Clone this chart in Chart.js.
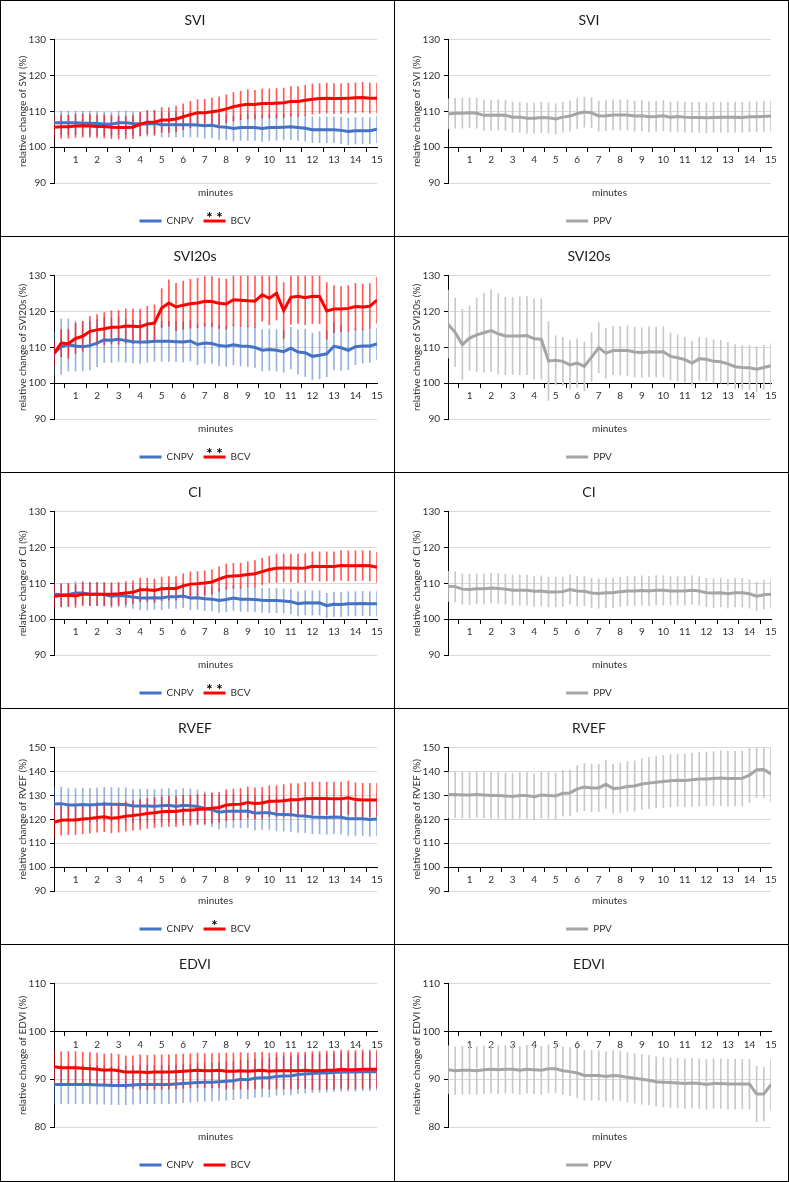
<!DOCTYPE html>
<html lang="en">
<head>
<meta charset="UTF-8" />
<title>Relative change of SVI, SVI20s, CI, RVEF and EDVI</title>
<script src="https://cdn.jsdelivr.net/npm/chart.js"></script>
<style>
  body { margin: 0; background: #fff; }
  #grid {
    width: 789px; box-sizing: border-box;
    border-top: 1px solid #000; border-left: 1px solid #000;
    display: grid; grid-template-columns: 394px 394px;
    grid-template-rows: 236px 236px 236px 236px 237px;
  }
  .cell { border-right: 1px solid #000; border-bottom: 1px solid #000; box-sizing: border-box; }
  canvas { display: block; }
</style>
</head>
<body>
<div id="grid"></div>
<script>
// time points, seconds after start (one every 20 s, 0..15 min)
const seconds = [0,20,40,60,80,100,120,140,160,180,200,220,240,260,280,300,320,340,360,380,400,420,440,460,480,500,520,540,560,580,600,620,640,660,680,700,720,740,760,780,800,820,840,860,880,900];

// SVI
const sviCnpv = [106.8,106.8,106.8,106.8,106.7,106.7,106.6,106.5,106.4,106.8,106.8,106.6,106.5,106.5,106.6,106.3,106.3,106.3,106.3,106.3,106.2,106.0,106.1,105.7,105.6,105.2,105.5,105.5,105.5,105.2,105.5,105.5,105.6,105.7,105.5,105.3,104.9,104.9,104.9,104.9,104.7,104.4,104.6,104.6,104.6,105.0];
const sviCnpvSd = [3.3,3.3,3.3,3.3,3.3,3.3,3.3,3.3,3.3,3.3,3.3,3.3,3.3,3.4,3.4,3.4,3.4,3.4,3.4,3.4,3.4,3.5,3.5,3.5,3.5,3.5,3.6,3.6,3.6,3.6,3.6,3.6,3.6,3.6,3.6,3.6,3.6,3.6,3.6,3.6,3.7,3.7,3.7,3.7,3.7,3.7];
const sviBcv = [105.6,105.7,105.7,105.9,106.0,105.9,105.8,105.8,105.6,105.5,105.5,105.6,106.4,107.0,107.0,107.6,107.6,107.9,108.5,109.1,109.6,109.6,109.9,110.2,110.7,111.3,111.7,112.0,111.9,112.2,112.2,112.3,112.4,112.8,112.8,113.1,113.4,113.6,113.7,113.6,113.6,113.7,113.8,113.9,113.7,113.7];
const sviBcvSd = [3.2,3.2,3.2,3.2,3.2,3.2,3.2,3.2,3.2,3.2,3.2,3.2,3.3,3.3,3.4,3.5,3.5,3.6,3.6,3.7,3.7,3.8,3.8,3.9,3.9,4.0,4.0,4.0,4.0,4.0,4.1,4.1,4.1,4.1,4.1,4.2,4.2,4.2,4.2,4.2,4.2,4.2,4.2,4.2,4.2,4.2];
const sviPpv = [109.3,109.5,109.5,109.6,109.5,108.9,108.9,109.0,108.9,108.4,108.4,108.1,108.1,108.3,108.2,107.9,108.4,108.7,109.4,109.8,109.6,108.7,108.8,109.0,109.0,109.0,108.7,108.8,108.5,108.6,108.8,108.4,108.6,108.4,108.3,108.3,108.2,108.3,108.4,108.4,108.4,108.3,108.5,108.5,108.6,108.7];
const sviPpvSd = [4.2,4.2,4.2,4.2,4.2,4.2,4.2,4.2,4.2,4.2,4.2,4.2,4.2,4.2,4.2,4.2,4.2,4.2,4.2,4.2,4.2,4.2,4.2,4.2,4.2,4.2,4.2,4.2,4.2,4.2,4.2,4.2,4.2,4.2,4.2,4.2,4.2,4.2,4.2,4.2,4.2,4.2,4.2,4.2,4.2,4.2];

// SVI20s
const svi20Cnpv = [108.3,110.2,110.7,110.4,110.2,110.5,111.2,112.1,112.0,112.3,111.9,111.6,111.5,111.5,111.7,111.7,111.7,111.6,111.5,111.8,110.8,111.2,111.1,110.5,110.3,110.7,110.4,110.3,110.0,109.2,109.4,109.2,108.8,109.8,108.7,108.5,107.5,107.8,108.2,110.3,109.9,109.2,110.2,110.4,110.4,111.0];
const svi20CnpvSd = [6.0,7.7,7.3,7.0,6.8,6.8,6.6,6.4,6.2,6.2,6.0,6.0,6.0,5.6,5.6,5.6,5.6,5.6,5.6,5.6,5.6,5.6,5.6,5.6,5.6,5.6,5.6,5.6,5.6,5.8,5.8,5.8,5.8,5.8,6.2,6.6,6.5,6.6,6.4,6.6,6.3,5.4,5.0,4.8,4.6,4.5];
const svi20Bcv = [108.3,111.2,111.0,112.5,113.1,114.5,114.9,115.2,115.6,115.6,116.0,115.9,115.8,116.5,116.8,121.0,122.4,121.3,121.8,122.2,122.4,122.9,122.8,122.3,122.1,123.3,123.2,123.0,122.9,124.7,123.7,125.1,120.3,124.0,124.3,123.9,124.3,124.2,120.2,120.7,120.7,120.9,121.4,121.3,121.5,123.2];
const svi20BcvSd = [3.5,3.8,4.0,4.2,4.2,4.2,4.3,4.5,4.6,4.7,4.8,4.8,4.8,5.0,5.1,5.4,6.5,6.6,6.7,6.8,6.9,7.0,7.0,7.0,7.0,7.2,7.3,7.3,7.3,7.4,7.4,7.5,7.8,7.6,7.6,7.6,7.6,7.6,7.9,6.6,6.3,6.4,6.5,6.4,6.3,6.4];
const svi20Ppv = [116.5,114.2,110.8,112.6,113.5,114.1,114.7,113.8,113.2,113.2,113.2,113.3,112.4,112.3,106.2,106.4,106.1,105.1,105.6,104.7,107.3,109.9,108.4,109.1,109.1,109.1,108.7,108.6,108.8,108.7,108.8,107.5,107.1,106.6,105.6,106.8,106.7,106.1,106.0,105.4,104.6,104.4,104.3,103.9,104.4,104.9];
const svi20PpvSd = [9.5,9.6,9.8,9.0,10.3,11.0,11.4,11.2,10.8,10.8,10.9,10.9,11.2,11.2,11.0,6.8,6.7,6.8,6.8,6.8,6.8,7.0,7.0,6.7,6.8,6.9,7.0,6.9,7.0,7.0,7.0,6.6,6.4,6.3,6.1,6.0,6.0,6.0,6.0,6.0,6.2,6.1,6.2,6.3,6.2,6.2];

// CI
const ciCnpv = [107.0,106.8,106.9,107.3,107.3,107.0,107.0,106.9,106.4,106.6,106.5,106.2,105.9,105.9,106.0,105.9,106.3,106.3,106.5,105.9,106.0,105.7,105.6,105.2,105.5,105.9,105.6,105.6,105.5,105.3,105.2,105.2,105.1,104.9,104.3,104.6,104.5,104.6,103.8,104.2,104.1,104.3,104.3,104.4,104.3,104.3];
const ciCnpvSd = [3.2,3.2,3.2,3.2,3.2,3.2,3.2,3.2,3.2,3.2,3.2,3.2,3.3,3.3,3.3,3.3,3.3,3.3,3.3,3.3,3.3,3.3,3.3,3.3,3.4,3.4,3.4,3.4,3.4,3.4,3.4,3.4,3.4,3.4,3.4,3.4,3.4,3.4,3.4,3.4,3.4,3.4,3.4,3.4,3.4,3.4];
const ciBcv = [106.4,106.6,106.7,106.5,107.0,107.0,107.0,107.0,107.0,107.1,107.3,107.5,108.2,108.2,108.0,108.5,108.6,108.6,109.3,109.8,109.9,110.1,110.4,111.2,111.9,112.1,112.2,112.5,112.7,113.3,113.9,114.2,114.3,114.3,114.2,114.3,114.8,114.7,114.7,114.7,115.0,114.9,114.9,115.0,114.9,114.5];
const ciBcvSd = [3.2,3.2,3.2,3.2,3.2,3.2,3.2,3.2,3.2,3.2,3.2,3.2,3.3,3.3,3.3,3.3,3.3,3.3,3.4,3.4,3.4,3.4,3.4,3.4,3.5,3.5,3.5,3.5,3.7,3.7,3.7,3.9,3.9,3.9,4.0,4.0,4.0,4.1,4.1,4.1,4.2,4.2,4.2,4.2,4.2,4.2];
const ciPpv = [109.2,109.1,108.4,108.3,108.5,108.5,108.7,108.6,108.4,108.1,108.1,108.1,107.8,107.9,107.6,107.6,107.7,108.3,107.9,107.8,107.3,107.2,107.4,107.4,107.7,107.9,107.9,108.0,107.9,108.1,108.1,107.9,107.9,107.9,108.1,107.9,107.4,107.3,107.4,107.1,107.4,107.4,107.1,106.4,106.8,107.0];
const ciPpvSd = [4.2,4.2,4.2,4.2,4.2,4.2,4.2,4.2,4.2,4.2,4.2,4.2,4.2,4.2,4.2,4.2,4.1,4.1,4.1,4.1,4.1,4.1,4.1,4.1,4.1,4.1,4.1,4.1,4.1,4.1,4.1,4.0,4.0,4.0,4.0,4.0,4.0,4.0,4.0,4.0,4.0,4.0,4.0,4.0,4.0,4.0];

// RVEF
const rvefCnpv = [126.5,126.6,126.0,126.0,126.2,126.0,126.2,126.4,126.3,126.2,126.2,125.6,125.6,125.6,125.5,125.7,125.9,125.4,125.9,125.7,125.4,124.6,124.0,123.0,123.4,123.4,123.4,123.5,122.6,122.8,122.8,122.2,122.1,122.0,121.5,121.4,121.0,120.9,120.8,121.0,120.9,120.3,120.3,120.3,120.0,120.2];
const rvefCnpvSd = [7.0,6.9,6.9,6.9,6.9,7.0,7.0,7.0,7.0,7.0,7.0,7.0,7.0,7.0,7.0,7.0,7.0,7.0,7.0,7.0,7.0,7.0,7.0,7.0,7.0,7.0,7.0,7.0,7.0,7.0,7.0,7.0,7.0,7.0,7.0,7.0,7.0,7.0,7.0,7.0,7.0,7.0,7.0,7.0,7.0,7.0];
const rvefBcv = [118.8,119.6,119.8,119.8,120.2,120.4,120.8,121.1,120.5,120.8,121.3,121.6,122.0,122.5,122.8,123.2,123.4,123.3,123.8,123.8,124.1,124.4,124.7,125.0,126.0,126.2,126.4,127.1,126.7,126.9,127.6,127.6,127.8,128.2,128.2,128.7,128.8,128.8,128.8,128.6,128.6,129.1,128.3,128.1,128.1,128.1];
const rvefBcvSd = [6.2,6.2,6.2,6.2,6.2,6.2,6.2,6.2,6.2,6.2,6.2,6.2,6.3,6.3,6.3,6.3,6.3,6.3,6.3,6.3,6.3,6.3,6.3,6.3,6.5,6.5,6.5,6.5,6.5,6.5,6.5,6.5,6.8,6.8,6.8,6.8,6.8,6.8,6.8,7.0,7.0,7.0,7.0,7.0,7.0,7.0];
const rvefPpv = [130.3,130.4,130.2,130.2,130.4,130.2,130.0,130.0,129.8,129.6,130.0,130.0,129.5,130.2,130.0,129.8,131.0,131.1,132.8,133.6,133.2,133.2,134.7,132.9,133.2,133.8,134.0,134.8,135.2,135.6,135.9,136.2,136.4,136.3,136.6,136.9,136.9,137.1,137.3,137.1,137.1,137.2,138.5,140.8,140.9,139.0];
const rvefPpvSd = [9.6,9.6,9.6,9.6,9.6,9.6,9.6,9.6,9.6,9.6,9.6,9.6,9.6,9.6,9.6,9.6,9.6,9.6,9.8,9.9,10.0,10.0,10.1,10.3,10.4,10.4,10.5,10.6,10.7,10.8,10.9,11.0,11.0,11.1,11.2,11.2,11.3,11.3,11.4,11.4,11.4,11.5,11.5,11.6,11.8,11.7];

// EDVI
const edviCnpv = [88.9,88.9,88.9,88.9,88.9,88.9,88.8,88.8,88.7,88.7,88.7,88.8,88.9,88.9,88.9,88.9,88.9,89.0,89.1,89.2,89.3,89.4,89.4,89.5,89.6,89.7,90.0,89.9,90.2,90.3,90.3,90.6,90.7,90.7,91.0,91.1,91.2,91.3,91.3,91.4,91.5,91.5,91.5,91.6,91.6,91.6];
const edviCnpvSd = [4.0,4.0,4.0,4.0,4.0,4.0,4.0,4.0,4.0,4.0,4.0,4.0,4.0,4.0,4.0,4.0,4.0,4.0,4.0,4.0,4.0,4.0,4.0,4.0,4.0,4.0,4.0,4.0,4.0,4.0,4.0,4.0,4.0,4.0,4.0,4.0,4.0,4.0,4.0,4.0,4.0,4.0,4.0,4.0,4.0,4.0];
const edviBcv = [92.6,92.4,92.4,92.4,92.3,92.2,92.1,91.9,92.0,91.8,91.5,91.5,91.5,91.4,91.5,91.5,91.5,91.6,91.7,91.8,91.9,91.8,91.8,91.9,91.7,91.7,91.8,91.7,91.8,91.9,91.7,91.8,91.8,91.8,91.8,91.9,91.8,91.8,91.9,91.9,92.1,92.0,92.0,92.1,92.1,92.1];
const edviBcvSd = [3.4,3.4,3.4,3.4,3.4,3.4,3.4,3.4,3.4,3.4,3.4,3.4,3.6,3.6,3.6,3.6,3.6,3.6,3.6,3.6,3.6,3.6,3.6,3.6,3.8,3.8,3.8,3.8,3.8,3.8,3.8,3.8,3.8,3.8,3.8,3.8,4.0,4.0,4.0,4.0,4.0,4.0,4.0,4.0,4.0,4.0];
const edviPpv = [92.0,91.8,91.9,91.9,91.8,92.0,92.1,92.0,92.1,92.1,91.9,92.1,92.0,91.9,92.2,92.2,91.8,91.6,91.3,90.8,90.8,90.8,90.6,90.8,90.7,90.4,90.2,90.0,89.8,89.5,89.4,89.3,89.2,89.1,89.2,89.1,88.9,89.1,89.1,89.0,89.0,89.0,89.0,86.9,86.9,88.9];
const edviPpvSd = [5.0,5.0,5.0,5.0,5.0,5.0,5.0,5.0,5.0,5.0,5.0,5.0,5.0,5.0,5.0,5.0,5.0,5.0,5.2,5.2,5.2,5.2,5.2,5.2,5.2,5.2,5.2,5.2,5.2,5.2,5.2,5.2,5.2,5.2,5.2,5.2,5.2,5.2,5.2,5.2,5.2,5.2,5.2,5.8,5.6,5.3];

const titles = ['SVI', 'SVI20s', 'CI', 'RVEF', 'EDVI'];
const yMins = [90, 90, 90, 90, 80];
const yMaxs = [130, 130, 130, 150, 110];
const stars = ['* *', '* *', '* *', '*', ''];

const rows = [
  { cnpv: [sviCnpv, sviCnpvSd], bcv: [sviBcv, sviBcvSd], ppv: [sviPpv, sviPpvSd] },
  { cnpv: [svi20Cnpv, svi20CnpvSd], bcv: [svi20Bcv, svi20BcvSd], ppv: [svi20Ppv, svi20PpvSd] },
  { cnpv: [ciCnpv, ciCnpvSd], bcv: [ciBcv, ciBcvSd], ppv: [ciPpv, ciPpvSd] },
  { cnpv: [rvefCnpv, rvefCnpvSd], bcv: [rvefBcv, rvefBcvSd], ppv: [rvefPpv, rvefPpvSd] },
  { cnpv: [edviCnpv, edviCnpvSd], bcv: [edviBcv, edviBcvSd], ppv: [edviPpv, edviPpvSd] }
];

const BLUE = '#4472C4', RED = '#FF0000', GREY = '#A5A5A5';
const TEXT = '#303030';

Chart.defaults.font.family = 'Lato, "Open Sans", sans-serif';

function meanLine(label, mean, color, order) {
  return {
    type: 'line', label, order, xAxisID: 'x',
    data: seconds.map((s, i) => ({ x: s, y: mean[i] })),
    borderColor: color, backgroundColor: color, borderWidth: 3,
    pointRadius: 0, pointBorderWidth: 3, pointStyle: 'line', tension: 0
  };
}

function errorBars(label, mean, sd, color) {
  return {
    type: 'bar', label: label + ' SD', order: 5, xAxisID: 'x',
    data: seconds.map((s, i) => ({ x: s, y: [mean[i] - sd[i], mean[i] + sd[i]] })),
    backgroundColor: color, borderWidth: 0, barThickness: 1, grouped: false
  };
}

// the significance stars sit on top of the BCV legend line
const starPlugin = {
  id: 'stars',
  afterDraw(chart, args, opts) {
    if (!opts.text) return;
    const legend = chart.legend;
    const i = legend.legendItems.findIndex(it => it.text === 'BCV');
    if (i < 0) return;
    const box = legend.legendHitBoxes[i];
    const ctx = chart.ctx;
    ctx.save();
    ctx.font = 'bold 15px Lato';
    ctx.fillStyle = '#000';
    ctx.textAlign = 'center';
    ctx.textBaseline = 'middle';
    ctx.fillText(opts.text, box.left + 11, box.top + box.height / 2 - 3);
    ctx.restore();
  }
};

function makeChart(canvas, r, datasets, starText) {
  return new Chart(canvas, {
    type: 'line',
    data: { datasets },
    options: {
      responsive: false,
      animation: false,
      events: [],
      layout: { padding: { left: 12, right: 17, top: 0, bottom: 0 } },
      plugins: {
        title: {
          display: true, text: titles[r], color: '#1a1a1a',
          font: { size: 14, weight: 'normal' }, padding: { top: 11, bottom: 11 }
        },
        legend: {
          position: 'bottom',
          labels: {
            usePointStyle: true, pointStyle: 'line', pointStyleWidth: 22, boxHeight: 3,
            font: { size: 10 }, color: TEXT, padding: 10,
            filter: item => !item.text.endsWith('SD'),
            sort: (a, b) => a.datasetIndex - b.datasetIndex
          }
        },
        tooltip: { enabled: false },
        stars: { text: starText }
      },
      scales: {
        x: {
          type: 'linear', min: 0, max: 900, offset: false,
          position: { y: 100 },
          ticks: {
            stepSize: 60, autoSkip: false, maxRotation: 0, padding: 3,
            font: { size: 10 }, color: TEXT,
            callback: v => (v === 0 ? '' : v / 60)
          },
          grid: { drawOnChartArea: false, tickLength: 4, tickColor: '#000' },
          border: { color: '#000' }
        },
        x2: {
          type: 'linear', position: 'bottom',
          grid: { display: false, drawTicks: false },
          border: { display: false },
          ticks: { display: false },
          title: { display: true, text: 'minutes', color: TEXT, font: { size: 10 }, padding: { top: 4, bottom: 7 } }
        },
        y: {
          min: yMins[r], max: yMaxs[r],
          ticks: { stepSize: 10, font: { size: 10 }, color: TEXT, padding: 4 },
          grid: { color: '#D9D9D9', tickColor: '#000', tickLength: 4 },
          border: { color: '#000' },
          title: {
            display: true, text: 'relative change of ' + titles[r] + ' (%)',
            color: TEXT, font: { size: 10 }, padding: { top: 4, bottom: 0 }
          },
          afterFit: s => { s.width = 41; }
        }
      }
    },
    plugins: [starPlugin]
  });
}

const grid = document.getElementById('grid');
rows.forEach((row, r) => {
  const left = document.createElement('div');
  left.className = 'cell';
  const c1 = document.createElement('canvas');
  c1.width = 393; c1.height = 235;
  left.appendChild(c1);
  grid.appendChild(left);

  const right = document.createElement('div');
  right.className = 'cell';
  const c2 = document.createElement('canvas');
  c2.width = 393; c2.height = 235;
  right.appendChild(c2);
  grid.appendChild(right);

  makeChart(c1, r, [
    meanLine('CNPV', row.cnpv[0], BLUE, 1),
    meanLine('BCV', row.bcv[0], RED, 0),
    errorBars('BCV', row.bcv[0], row.bcv[1], 'rgba(255,0,0,0.65)'),
    errorBars('CNPV', row.cnpv[0], row.cnpv[1], 'rgba(68,114,196,0.55)')
  ], stars[r]);

  makeChart(c2, r, [
    meanLine('PPV', row.ppv[0], GREY, 0),
    errorBars('PPV', row.ppv[0], row.ppv[1], '#C8C8C8')
  ], '');
});
</script>
</body>
</html>
